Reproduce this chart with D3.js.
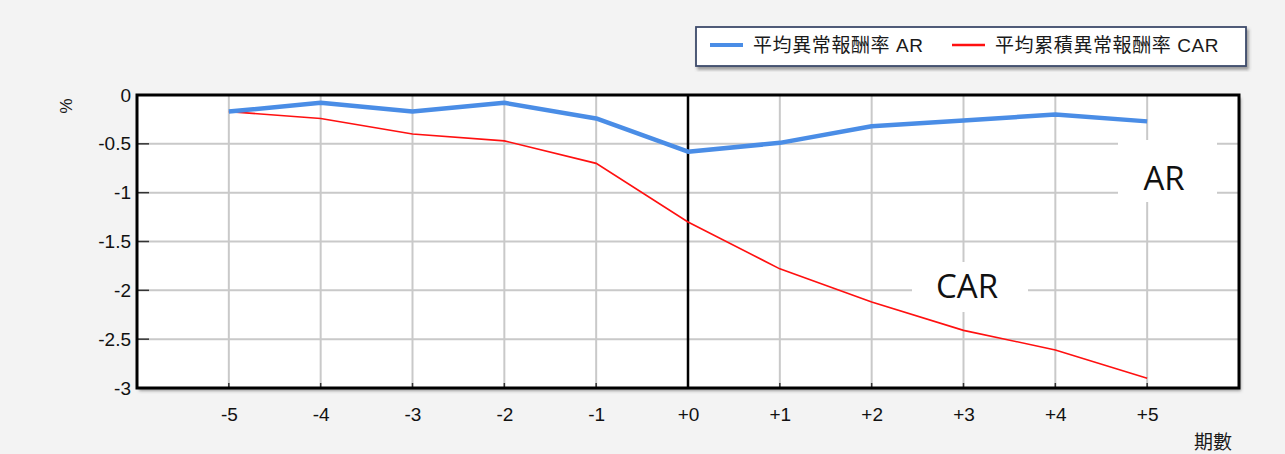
<!DOCTYPE html>
<html lang="zh-Hant">
<head>
    <meta charset="UTF-8">
    <title>平均異常報酬率 AR / CAR</title>
    <style>
        body {
            margin: 0;
            background: #f3f3f3;
        }
        svg { display: block; }
        .tick text {
            font-family: "Liberation Sans", Arial, sans-serif;
            font-size: 19px;
            fill: #111;
        }
        .lg {
            font-family: "Liberation Sans", "Noto Sans CJK TC", sans-serif;
            font-size: 19px;
            fill: #1a1a1a;
        }
        .big {
            font-family: "Open Sans", sans-serif;
            font-size: 33px;
            fill: #111;
        }
    </style>
</head>
<body>
    <div id="chart"></div>
    <script src="https://d3js.org/d3.v7.min.js"></script>
    <script>
        // event window (periods) and the two series, in %
        const periods   = [-5, -4, -3, -2, -1, 0, 1, 2, 3, 4, 5];
        const arValues  = [-0.17, -0.08, -0.17, -0.08, -0.24, -0.58, -0.49, -0.32, -0.26, -0.20, -0.27];
        const carValues = [-0.17, -0.24, -0.40, -0.47, -0.70, -1.30, -1.78, -2.12, -2.41, -2.61, -2.90];
        const yTicks    = [0, -0.5, -1, -1.5, -2, -2.5, -3];
        const seriesNames = ["平均異常報酬率 AR", "平均累積異常報酬率 CAR"];

        const width  = 1285;
        const height = 454;
        const pl = 137, pr = 1239, pt = 95, pb = 388;

        const x = d3.scaleLinear().domain([-6, 6]).range([pl, pr]);
        const y = d3.scaleLinear().domain([-3, 0]).range([pb, pt]);

        const svg = d3.select("#chart").append("svg")
            .attr("width", width).attr("height", height);

        const defs = svg.append("defs");
        const f = defs.append("filter").attr("id", "shadow")
            .attr("x", "-5%").attr("y", "-5%").attr("width", "110%").attr("height", "120%");
        f.append("feDropShadow").attr("dx", 2).attr("dy", 3).attr("stdDeviation", 1.5)
            .attr("flood-color", "#555").attr("flood-opacity", 0.55);

        // plot background
        svg.append("rect")
            .attr("x", pl).attr("y", pt)
            .attr("width", pr - pl).attr("height", pb - pt)
            .attr("fill", "#fff").attr("filter", "url(#shadow)");

        // grid
        const grid = svg.append("g").attr("stroke", "#c9c9c9").attr("stroke-width", 2);
        grid.selectAll(".gy").data(yTicks.filter(d => d !== 0 && d !== -3)).enter().append("line")
            .attr("x1", pl).attr("x2", pr)
            .attr("y1", d => y(d)).attr("y2", d => y(d));
        grid.selectAll(".gx").data(periods.filter(d => d !== 0)).enter().append("line")
            .attr("x1", d => x(d)).attr("x2", d => x(d))
            .attr("y1", pt).attr("y2", pb);

        // small dark ticks inside the frame
        const ticks = svg.append("g").attr("stroke", "#333").attr("stroke-width", 1.5);
        ticks.selectAll(".ty").data(yTicks).enter().append("line")
            .attr("x1", pl).attr("x2", pl + 12)
            .attr("y1", d => y(d)).attr("y2", d => y(d));
        ticks.selectAll(".tx").data(periods).enter().append("line")
            .attr("x1", d => x(d)).attr("x2", d => x(d))
            .attr("y1", pb).attr("y2", pb - 5);

        // white boxes behind the AR / CAR labels
        svg.append("rect").attr("x", 1118).attr("y", 140).attr("width", 99).attr("height", 62).attr("fill", "#fff");
        svg.append("rect").attr("x", 912).attr("y", 262).attr("width", 116).attr("height", 50).attr("fill", "#fff");

        // zero line
        svg.append("line")
            .attr("x1", x(0)).attr("x2", x(0)).attr("y1", pt).attr("y2", pb)
            .attr("stroke", "#000").attr("stroke-width", 2.5);

        // frame
        svg.append("rect")
            .attr("x", pl).attr("y", pt)
            .attr("width", pr - pl).attr("height", pb - pt)
            .attr("fill", "none").attr("stroke", "#000").attr("stroke-width", 3);

        // series
        const line = vals => d3.line()
            .x((d, i) => x(periods[i]))
            .y(d => y(d))(vals);

        svg.append("path").attr("d", line(carValues))
            .attr("fill", "none").attr("stroke", "#ff1010").attr("stroke-width", 1.6);
        svg.append("path").attr("d", line(arValues))
            .attr("fill", "none").attr("stroke", "#4a8de6").attr("stroke-width", 4.5)
            .attr("stroke-linejoin", "round");

        // axes (labels only)
        svg.append("g").attr("transform", `translate(0,${pb})`)
            .call(d3.axisBottom(x).tickValues(periods)
                .tickFormat(d => d >= 0 ? "+" + d : String(d))
                .tickSize(0).tickPadding(20))
            .call(g => g.select(".domain").remove());
        svg.append("g").attr("transform", `translate(${pl},0)`)
            .call(d3.axisLeft(y).tickValues(yTicks)
                .tickFormat(d => String(d))
                .tickSize(0).tickPadding(6))
            .call(g => g.select(".domain").remove());

        // axis titles
        svg.append("text").attr("class", "lg")
            .attr("transform", "translate(60,106) rotate(90)")
            .attr("text-anchor", "middle").style("font-size", "17px")
            .text("%");
        svg.append("text").attr("class", "lg")
            .attr("x", 1213).attr("y", 449).attr("text-anchor", "middle")
            .text("期數");

        // AR / CAR labels
        svg.append("text").attr("class", "big")
            .attr("x", 1164).attr("y", 190).attr("text-anchor", "middle").text("AR");
        svg.append("text").attr("class", "big")
            .attr("x", 967).attr("y", 298).attr("text-anchor", "middle").text("CAR");

        // legend
        const lg = svg.append("g");
        lg.append("rect").attr("x", 696).attr("y", 27).attr("width", 550).attr("height", 39)
            .attr("fill", "#fff").attr("stroke", "#3e4b6b").attr("stroke-width", 1.8)
            .attr("filter", "url(#shadow)");
        const items = [
            {name: seriesNames[0], color: "#4a8de6", w: 4, x0: 710},
            {name: seriesNames[1], color: "#ff1010", w: 2.5, x0: 952}
        ];
        items.forEach(it => {
            lg.append("line").attr("x1", it.x0).attr("x2", it.x0 + 33)
                .attr("y1", 45).attr("y2", 45)
                .attr("stroke", it.color).attr("stroke-width", it.w);
            lg.append("text").attr("class", "lg")
                .attr("x", it.x0 + 43).attr("y", 52)
                .style("letter-spacing", "0.6px")
                .text(it.name);
        });
    </script>
</body>
</html>
